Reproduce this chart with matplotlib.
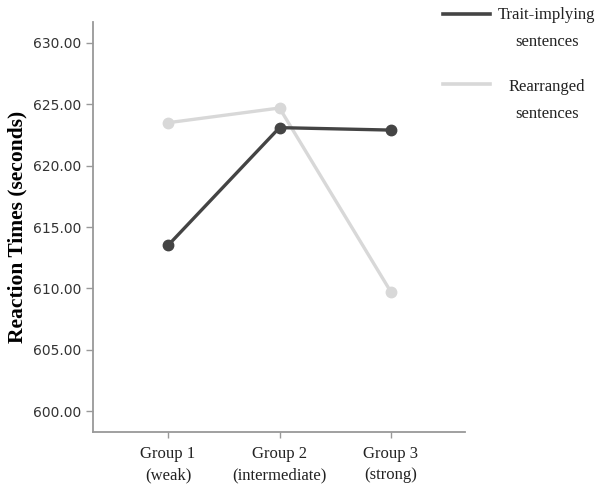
import matplotlib.pyplot as plt
from matplotlib.lines import Line2D

# data
groups = ['Group 1\n(weak)', 'Group 2\n(intermediate)', 'Group 3\n(strong)']
trait = [613.5, 623.1, 622.9]
rearranged = [623.5, 624.7, 609.7]
yticks = [600, 605, 610, 615, 620, 625, 630]

serif = 'Liberation Serif'
dark = '#444444'
light = '#d8d8d8'
axis_col = '#999999'

fig = plt.figure(figsize=(6.03, 4.87), dpi=100)
ax = fig.add_axes([93 / 603, 1 - 432 / 487, (465 - 93) / 603, (432 - 22) / 487])

x = list(range(len(groups)))
ax.plot(x, rearranged, color=light, lw=2.4, marker='o', ms=7.5, zorder=2)
ax.plot(x, trait, color=dark, lw=2.4, marker='o', ms=7.5, zorder=3)

ax.set_xlim(-0.673, 2.664)
ax.set_ylim(598.29, 631.71)
ax.set_xticks(x)
ax.set_xticklabels(groups, family=serif, fontsize=12, color='#222222',
                   linespacing=1.45)
ax.set_yticks(yticks)
ax.set_yticklabels(['%.2f' % v for v in yticks], fontsize=10, color='#333333')
ax.set_ylabel('Reaction Times (seconds)', family=serif, fontsize=15.5,
              fontweight='bold', labelpad=4)

for s in ['top', 'right']:
    ax.spines[s].set_visible(False)
for s in ['left', 'bottom']:
    ax.spines[s].set_color(axis_col)
    ax.spines[s].set_linewidth(1.3)
ax.tick_params(axis='both', direction='out', color=axis_col, width=1, length=5)
ax.tick_params(axis='x', length=4, pad=6)

# legend drawn outside the axes, top right
def px(xp, yp):
    return xp / 603, 1 - yp / 487

for (label, col, yp, ytext) in [('Trait-implying\nsentences', dark, 14, 7),
                                ('Rearranged\nsentences', light, 84, 79)]:
    x0, y0 = px(443, yp)
    x1, _ = px(490, yp)
    fig.add_artist(Line2D([x0, x1], [y0, y0], color=col, lw=2.6,
                          transform=fig.transFigure))
    tx, ty = px(547, ytext)
    fig.text(tx, ty, label, family=serif, fontsize=12, ha='center', va='top',
             multialignment='center', linespacing=1.9, color='#222222')

fig.savefig('out.png', dpi=100)
